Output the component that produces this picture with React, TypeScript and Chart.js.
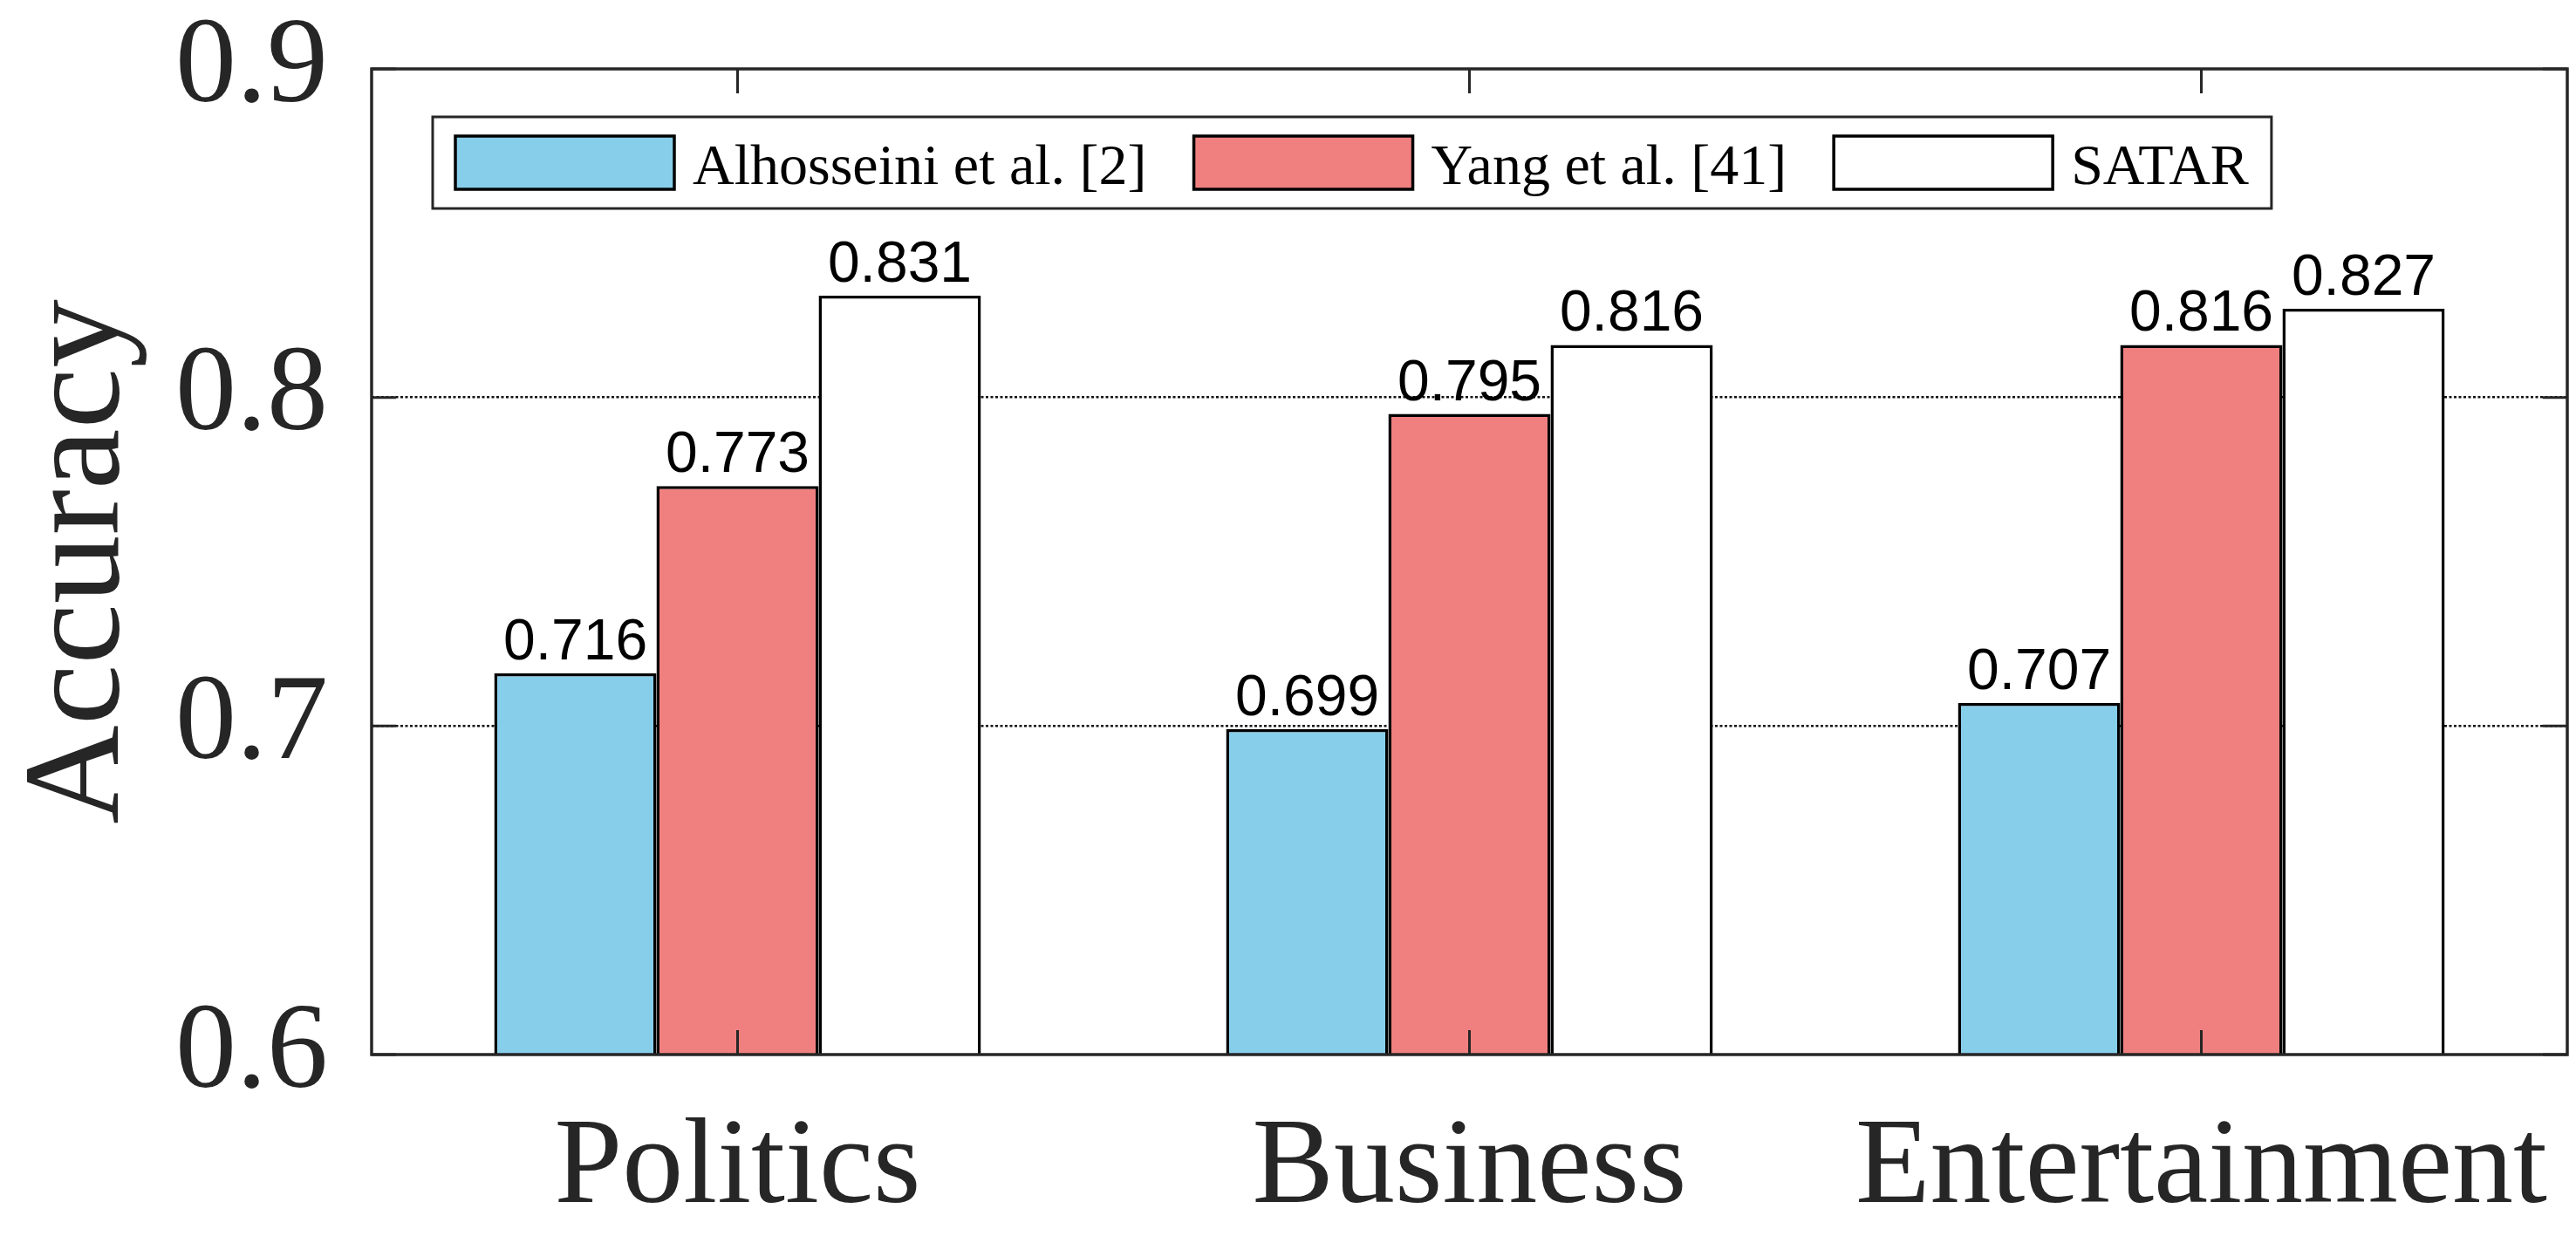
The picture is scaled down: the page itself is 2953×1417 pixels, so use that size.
import React, { useEffect, useRef } from "react";
import { Chart, registerables } from "chart.js";

Chart.register(...registerables);

const categories = ["Politics", "Business", "Entertainment"];
const seriesNames = ["Alhosseini et al. [2]", "Yang et al. [41]", "SATAR"];
const alhosseini = [0.716, 0.699, 0.707];
const yang = [0.773, 0.795, 0.816];
const satar = [0.831, 0.816, 0.827];
const seriesColors = ["#87CEEB", "#F08080", "#FFFFFF"];
const yTicks = [0.6, 0.7, 0.8, 0.9];
const gridValues = [0.7, 0.8];
const yTitle = "Accuracy";

const SERIF = "'Liberation Serif', 'Times New Roman', serif";
const SANS = "'Liberation Sans', Arial, sans-serif";
const AXIS_COLOR = "#262626";

const framePlugin = {
  id: "frame",
  afterDatasetsDraw(chart: any) {
    const { ctx, chartArea: a, scales } = chart;
    const xs = scales.x;
    const ys = scales.y;
    ctx.save();
    ctx.strokeStyle = AXIS_COLOR;
    ctx.lineWidth = 3.5;
    ctx.strokeRect(a.left, a.top, a.right - a.left, a.bottom - a.top);
    ctx.lineWidth = 3;
    const tl = 28;
    ctx.beginPath();
    for (const v of yTicks) {
      const py = ys.getPixelForValue(v);
      ctx.moveTo(a.left, py);
      ctx.lineTo(a.left + tl, py);
      ctx.moveTo(a.right, py);
      ctx.lineTo(a.right - tl, py);
    }
    categories.forEach((_, i) => {
      const px = xs.getPixelForValue(i);
      ctx.moveTo(px, a.bottom);
      ctx.lineTo(px, a.bottom - tl);
      ctx.moveTo(px, a.top);
      ctx.lineTo(px, a.top + tl);
    });
    ctx.stroke();
    ctx.restore();
  },
};

const valueLabelPlugin = {
  id: "valueLabels",
  afterDatasetsDraw(chart: any) {
    const { ctx } = chart;
    ctx.save();
    ctx.font = `66px ${SANS}`;
    ctx.fillStyle = "#000000";
    ctx.textAlign = "center";
    ctx.textBaseline = "alphabetic";
    chart.data.datasets.forEach((ds: any, di: number) => {
      const meta = chart.getDatasetMeta(di);
      meta.data.forEach((bar: any, i: number) => {
        ctx.fillText(Number(ds.data[i]).toFixed(3), bar.x, bar.y - 16);
      });
    });
    ctx.restore();
  },
};

const legendPlugin = {
  id: "boxLegend",
  afterDatasetsDraw(chart: any) {
    const { ctx, chartArea: a } = chart;
    const boxLeft = a.left + 70;
    const boxTop = a.top + 55;
    const boxH = 105;
    const padX = 26;
    const swW = 251;
    const swH = 61;
    const gapText = 21;
    const gapItem = 54;
    ctx.save();
    ctx.font = `66px ${SERIF}`;
    const ds = chart.data.datasets;
    const widths = ds.map((d: any) => ctx.measureText(d.label).width);
    let total = padX * 2;
    widths.forEach((w: number, i: number) => {
      total += swW + gapText + w + (i < widths.length - 1 ? gapItem : 0);
    });
    ctx.fillStyle = "#ffffff";
    ctx.fillRect(boxLeft, boxTop, total, boxH);
    ctx.strokeStyle = AXIS_COLOR;
    ctx.lineWidth = 3;
    ctx.strokeRect(boxLeft, boxTop, total, boxH);
    let x = boxLeft + padX;
    const swTop = boxTop + (boxH - swH) / 2;
    const cy = swTop + swH / 2;
    ds.forEach((d: any, i: number) => {
      ctx.fillStyle = d.backgroundColor;
      ctx.fillRect(x, swTop, swW, swH);
      ctx.strokeStyle = "#000000";
      ctx.lineWidth = 3.5;
      ctx.strokeRect(x, swTop, swW, swH);
      x += swW + gapText;
      ctx.fillStyle = "#000000";
      ctx.textAlign = "left";
      ctx.textBaseline = "alphabetic";
      ctx.fillText(d.label, x, cy + 24);
      x += widths[i] + gapItem;
    });
    ctx.restore();
  },
};

export default function App() {
  const canvasRef = useRef<HTMLCanvasElement | null>(null);

  useEffect(() => {
    const canvas = canvasRef.current;
    if (!canvas) return;
    const seriesValues = [alhosseini, yang, satar];
    const chart = new Chart(canvas, {
      type: "bar",
      data: {
        labels: categories,
        datasets: seriesValues.map((vals, i) => ({
          label: seriesNames[i],
          data: vals,
          backgroundColor: seriesColors[i],
          borderColor: "#000000",
          borderWidth: 3.5,
          borderSkipped: false,
          categoryPercentage: 0.665,
          barPercentage: 1.0,
        })),
      },
      options: {
        animation: false,
        responsive: true,
        maintainAspectRatio: false,
        devicePixelRatio: 1,
        layout: { padding: { left: 0, top: 79, right: 10, bottom: 0 } },
        plugins: {
          legend: { display: false },
          tooltip: { enabled: false },
          title: { display: false },
        },
        scales: {
          x: {
            type: "category",
            offset: true,
            grid: { display: false, drawTicks: false },
            border: { display: false },
            ticks: {
              color: AXIS_COLOR,
              font: { family: SERIF, size: 140 },
              padding: 48,
              maxRotation: 0,
              autoSkip: false,
            },
            afterFit: (scale: any) => {
              scale.height = 208;
              scale.paddingLeft = 0;
              scale.paddingRight = 0;
              scale.paddingTop = 0;
              scale.paddingBottom = 0;
            },
          },
          y: {
            type: "linear",
            min: 0.6,
            max: 0.9,
            afterBuildTicks: (scale: any) => {
              scale.ticks = yTicks.map((v) => ({ value: v }));
            },
            grid: {
              drawTicks: false,
              lineWidth: 2.5,
              color: (ctx: any) =>
                ctx.tick && gridValues.some((g) => Math.abs(g - ctx.tick.value) < 1e-9)
                  ? "#111111"
                  : "rgba(0,0,0,0)",
            },
            border: { display: false, dash: [3, 2.5] },
            ticks: {
              color: AXIS_COLOR,
              font: { family: SERIF, size: 140 },
              padding: 50,
              callback: (v: any) => Number(v).toFixed(1),
            },
            title: {
              display: true,
              text: yTitle,
              color: AXIS_COLOR,
              font: { family: SERIF, size: 157 },
              padding: { top: 0, bottom: 0 },
            },
            afterFit: (scale: any) => {
              scale.width = 426;
              scale.paddingLeft = 0;
              scale.paddingRight = 0;
              scale.paddingTop = 0;
              scale.paddingBottom = 0;
            },
          },
        },
      },
      plugins: [framePlugin, valueLabelPlugin, legendPlugin],
    });
    return () => chart.destroy();
  }, []);

  return (
    <div
      style={{
        position: "fixed",
        left: 0,
        top: 0,
        width: "2953px",
        height: "1417px",
        background: "#ffffff",
      }}
    >
      <canvas ref={canvasRef} />
    </div>
  );
}
